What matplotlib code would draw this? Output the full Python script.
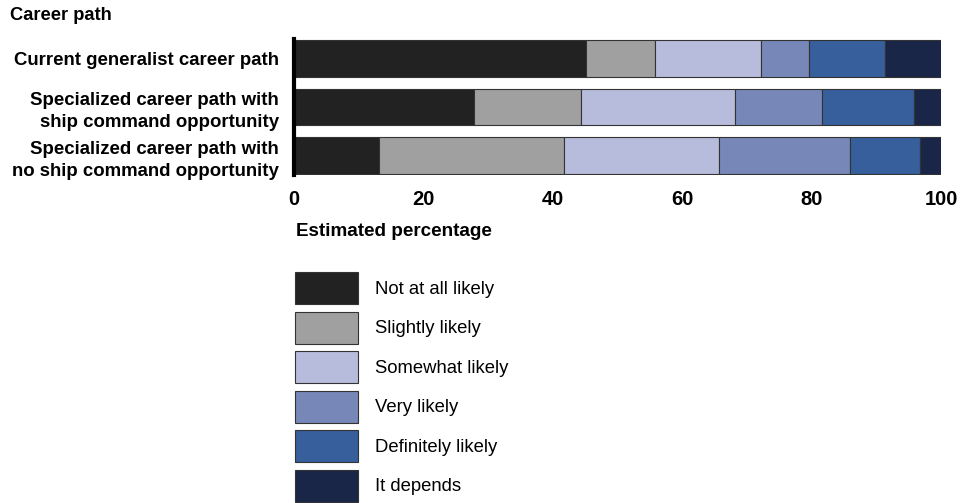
import numpy as np
import matplotlib
matplotlib.use("Agg")
import matplotlib.pyplot as plt

plt.rcParams['font.family'] = ['Liberation Sans', 'DejaVu Sans']

# data
paths = ['Current generalist career path',
         'Specialized career path with\nship command opportunity',
         'Specialized career path with\nno ship command opportunity']
levels = ['Not at all likely', 'Slightly likely', 'Somewhat likely',
          'Very likely', 'Definitely likely', 'It depends']
not_at_all = [45.1, 27.8, 13.2]
slightly = [10.7, 16.6, 28.5]
somewhat = [16.4, 23.7, 24.0]
very = [7.4, 13.5, 20.2]
definitely = [11.7, 14.2, 10.9]
depends = [8.7, 4.2, 3.2]
xticks = [0, 20, 40, 60, 80, 100]

colors = ['#222222', '#a0a0a0', '#b8bcdc', '#7788b8', '#365f9c', '#1a2648']
series = [not_at_all, slightly, somewhat, very, definitely, depends]

fig = plt.figure(figsize=(9.72, 5.03), dpi=100)
ax = fig.add_axes([294 / 972, 1 - 174.9 / 503, 647 / 972, 135.8 / 503])

y = np.arange(len(paths))
left = np.zeros(len(paths))
bars = []
for vals, col, lab in zip(series, colors, levels):
    b = ax.barh(y, vals, left=left, height=0.75, color=col,
                edgecolor='#333333', linewidth=0.8, label=lab)
    bars.append(b)
    left += np.array(vals)

ax.set_ylim(2.4, -0.4)
ax.set_xlim(0, 100)
ax.set_yticks(y)
ax.set_yticklabels(paths, fontsize=13.4, fontweight='bold', linespacing=1.4)
ax.set_xticks(xticks)
ax.set_xticklabels([str(t) for t in xticks], fontsize=14.5, fontweight='bold')
ax.tick_params(axis='x', length=0, pad=11)
ax.tick_params(axis='y', length=0, pad=11)
for s in ['top', 'right', 'bottom']:
    ax.spines[s].set_visible(False)
ax.spines['left'].set_linewidth(3)
ax.spines['left'].set_color('black')

fig.text(10 / 972, 1 - 15 / 503, 'Career path', fontsize=13.2,
         fontweight='bold', ha='left', va='center')
fig.text(296 / 972, 1 - 232 / 503, 'Estimated percentage', fontsize=13.6,
         fontweight='bold', ha='left', va='center')

leg = fig.legend(handles=bars, labels=levels, loc='upper left',
                 bbox_to_anchor=(295 / 972, 1 - 272 / 503), frameon=False,
                 fontsize=13.3, handlelength=3.4, handleheight=2.3,
                 labelspacing=0.4, handletextpad=0.92, borderpad=0,
                 borderaxespad=0)

fig.savefig('out.png', dpi=100)
